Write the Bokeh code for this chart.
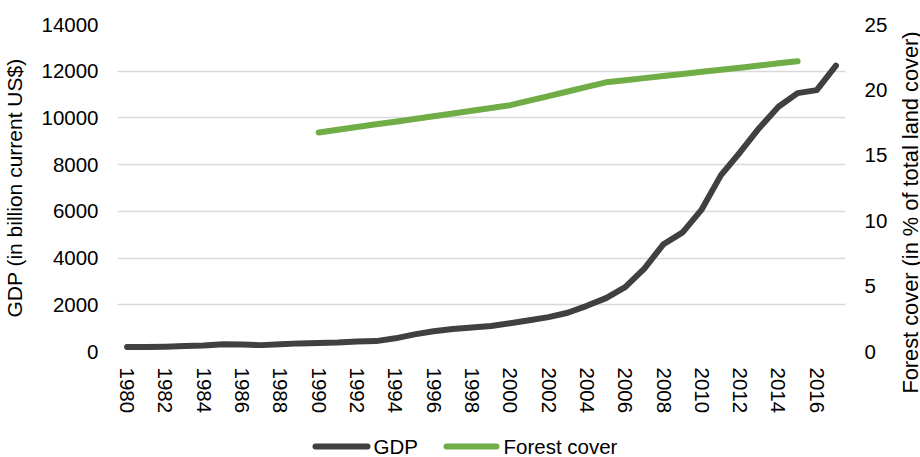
import math
from bokeh.plotting import figure
from bokeh.layouts import row, column
from bokeh.models import Range1d, LinearAxis, FixedTicker
from bokeh.core.properties import value
from bokeh.embed import file_html
from bokeh.resources import INLINE

# China: GDP (billion current US$) and forest cover (% of land area)
years = list(range(1980, 2018))
gdp = [191.1, 195.9, 205.1, 230.7, 259.9, 309.5, 300.8, 273.0, 312.4, 347.8,
       360.9, 383.4, 426.9, 444.7, 564.3, 734.5, 863.7, 961.6, 1029.0, 1094.0,
       1211.0, 1339.0, 1471.0, 1660.0, 1955.0, 2286.0, 2752.0, 3550.0, 4594.0, 5102.0,
       6087.0, 7552.0, 8532.0, 9570.0, 10476.0, 11062.0, 11191.0, 12238.0]

forest_years = list(range(1990, 2016))
forest = [16.74, 16.95, 17.16, 17.37, 17.57, 17.78, 17.99, 18.20, 18.41, 18.62,
          18.83, 19.18, 19.53, 19.88, 20.23, 20.58, 20.74, 20.90, 21.06, 21.22,
          21.38, 21.54, 21.70, 21.87, 22.03, 22.19]

year_ticks = list(range(1980, 2017, 2))
gdp_ticks = list(range(0, 14001, 2000))
forest_ticks = [0, 5, 10, 15, 20, 25]
series_names = ["GDP", "Forest cover"]

FONT = "Liberation Sans"
FS = "20.5px"
TEXT = "#000000"
GRID = "#D9D9D9"
GDP_COLOR = "#404040"
FOREST_COLOR = "#70AD47"

MAIN_H = 425

p = figure(width=892, height=MAIN_H, output_backend="svg", toolbar_location=None,
           x_range=Range1d(1979.5, 2017.5), y_range=Range1d(0, 14000),
           min_border_left=117, min_border_right=47, min_border_top=24,
           min_border_bottom=74)
p.outline_line_color = None
p.background_fill_color = "white"
p.border_fill_color = "white"
p.extra_y_ranges = {"forest": Range1d(0, 25)}

# grid
p.xgrid.grid_line_color = None
p.ygrid.grid_line_color = GRID
p.ygrid.grid_line_width = 1.5
p.ygrid.ticker = FixedTicker(ticks=gdp_ticks)

# bottom axis (years)
xa = p.xaxis[0]
xa.ticker = FixedTicker(ticks=year_ticks)
xa.major_label_orientation = -math.pi / 2
xa.axis_line_color = None
xa.major_tick_line_color = None
xa.minor_tick_line_color = None
xa.major_tick_out = 0
xa.major_tick_in = 0
xa.major_label_standoff = 16
xa.major_label_text_font = FONT
xa.major_label_text_font_size = FS
xa.major_label_text_color = TEXT

# left axis (GDP)
ya = p.yaxis[0]
ya.ticker = FixedTicker(ticks=gdp_ticks)
ya.axis_line_color = None
ya.major_tick_line_color = None
ya.minor_tick_line_color = None
ya.major_tick_out = 0
ya.major_tick_in = 0
ya.major_label_standoff = 19
ya.major_label_text_font = FONT
ya.major_label_text_font_size = FS
ya.major_label_text_color = TEXT
ya.axis_label = "GDP (in billion current US$)"
ya.axis_label_text_font = FONT
ya.axis_label_text_font_size = "21px"
ya.axis_label_text_font_style = "normal"
ya.axis_label_text_color = TEXT
ya.axis_label_standoff = 12

# right axis (forest cover)
ra = LinearAxis(y_range_name="forest", ticker=FixedTicker(ticks=forest_ticks))
ra.axis_line_color = None
ra.major_tick_line_color = None
ra.minor_tick_line_color = None
ra.major_tick_out = 0
ra.major_tick_in = 0
ra.major_label_standoff = 19
ra.major_label_text_font = FONT
ra.major_label_text_font_size = FS
ra.major_label_text_color = TEXT
p.add_layout(ra, "right")

p.line(years, gdp, line_color=GDP_COLOR, line_width=6,
       line_cap="round", line_join="round")
p.line(forest_years, forest, y_range_name="forest",
       line_color=FOREST_COLOR, line_width=6,
       line_cap="round", line_join="round")

# narrow strip on the right holding the secondary axis title
t = figure(width=28, height=MAIN_H, output_backend="svg", toolbar_location=None,
           x_range=Range1d(0, 28), y_range=Range1d(0, MAIN_H),
           x_axis_type=None, y_axis_type=None, min_border=0)
t.outline_line_color = None
t.xgrid.visible = False
t.ygrid.visible = False
t.text(x=[17.5], y=[MAIN_H - 212], text=["Forest cover (in % of total land cover)"],
       angle=math.pi / 2, text_align="center", text_baseline="middle",
       text_font=value(FONT), text_font_size="21.8px", text_color=TEXT)

# legend strip along the bottom: key line followed by the series name
s = figure(width=920, height=32, output_backend="svg", toolbar_location=None,
           x_range=Range1d(0, 920), y_range=Range1d(0, 32),
           x_axis_type=None, y_axis_type=None, min_border=0)
s.outline_line_color = None
s.xgrid.visible = False
s.ygrid.visible = False
key_x0 = [315, 446]
key_x1 = [367, 496]
label_x = [373, 503]
s.segment(x0=key_x0, y0=[11, 11], x1=key_x1, y1=[11, 11],
          line_color=[GDP_COLOR, FOREST_COLOR], line_width=6, line_cap="round")
s.text(x=label_x, y=[11, 11], text=series_names, text_align="left",
       text_baseline="middle", text_font=value(FONT), text_font_size=FS,
       text_color=TEXT)

layout = column(row(p, column(t), spacing=0), s, spacing=0)
open("out.html", "w").write(file_html(layout, INLINE))
